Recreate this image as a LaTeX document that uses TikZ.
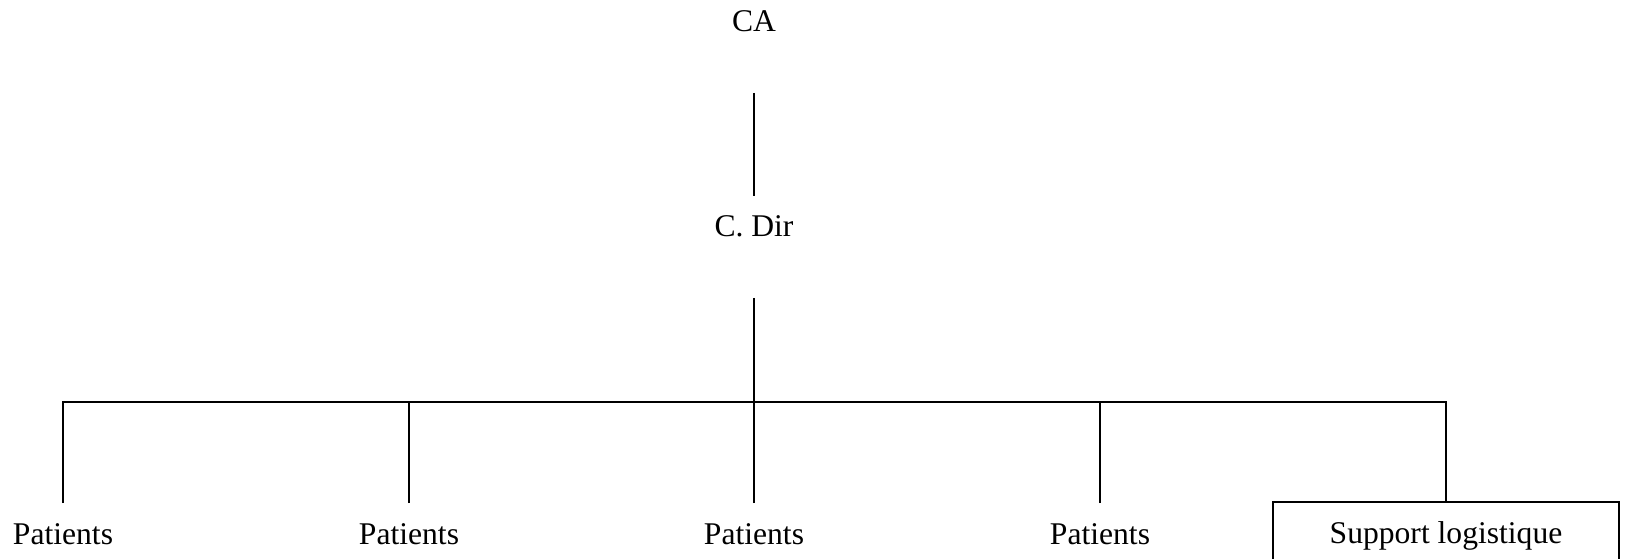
\documentclass[tikz,border=0pt]{standalone}
\usepackage{fontspec}
\setmainfont{Liberation Serif}
\begin{document}
\begin{tikzpicture}[x=0.75pt,y=-0.75pt,
  lbl/.style={inner xsep=4pt,inner ysep=15pt,outer sep=0pt,anchor=base,
    text height=15.75pt,text depth=30.75pt,font=\fontsize{23.7}{28}\selectfont},
  boxed/.style={lbl,draw,line width=2pt,minimum width=259.5pt},
  conn/.style={line width=2pt}]
\useasboundingbox (0,0) rectangle (1627,559);
\clip (0,0) rectangle (1627,559);
\node[lbl] (ca) at (754,32) {CA};
\node[lbl] (cdir) at (754,237) {C. Dir};
\node[lbl] (p1) at (63,544) {Patients};
\node[lbl] (p2) at (409,544) {Patients};
\node[lbl] (p3) at (754,544) {Patients};
\node[lbl] (p4) at (1100,544) {Patients};
\node[boxed] (sl) at (1446,543) {Support logistique};
\coordinate (j) at (754,402);
\draw[conn] (ca.south) -- (cdir.north);
\draw[conn] (cdir.south) -- (j);
\draw[conn] (p1.north) -- (p1.north |- j) -- (sl.north |- j) -- (sl.north);
\draw[conn] (p2.north) -- (p2.north |- j);
\draw[conn] (p3.north) -- (j);
\draw[conn] (p4.north) -- (p4.north |- j);
\end{tikzpicture}
\end{document}
